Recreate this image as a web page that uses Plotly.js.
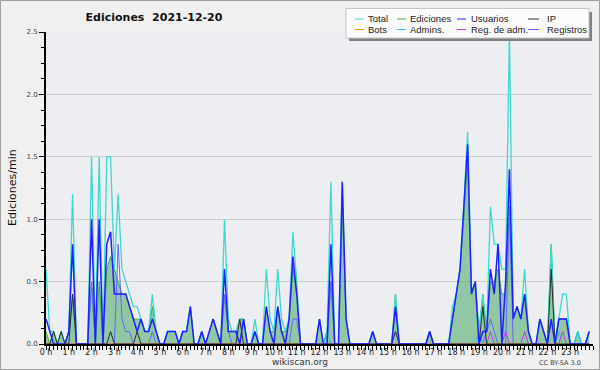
<!DOCTYPE html>
<html><head><meta charset="utf-8">
<script src="https://cdn.plot.ly/plotly-3.0.1.min.js"></script>
<style>html,body{margin:0;padding:0;background:#f0f0f0}#chart{width:600px;height:370px}</style>
</head><body><div id="chart"></div>
<script>
// 10-minute bins, index i -> hour i/6
const hourLabels = ["0 h","1 h","2 h","3 h","4 h","5 h","6 h","7 h","8 h","9 h","10 h","11 h","12 h","13 h","14 h","15 h","16 h","17 h","18 h","19 h","20 h","21 h","22 h","23 h"];

const total = [
 .6,.1,.1,0,.1,0,   .1,1.2,0,0,0,0,   1.5,0,1.5,0,1.5,1.5,   .6,1.2,.6,.5,.4,.3,
 .3,.2,.1,.1,.4,.1,  0,0,.1,.1,.1,0,   .1,.1,.3,0,0,.1,      0,.1,.2,.1,0,1.0,
 .2,.1,.1,.2,.2,0,   0,.2,0,0,.6,.2,   .1,.6,.2,.1,.2,.9,     .5,0,0,0,0,0,
 .2,0,.1,1.3,0,0,    1.3,.2,0,0,0,0,   0,0,.1,0,0,0,          0,0,.4,0,0,0,
 0,0,0,0,0,.1,       0,0,0,0,0,.3,     .4,.6,1.1,1.7,.4,.5,   .1,.4,.1,1.1,.8,.8,
 .6,.6,2.5,.2,.3,.2, .6,.1,0,0,.2,.1,  0,.8,0,.2,.4,.4,       0,0,.1,0,0,.1];

const ediciones = [
 .1,0,.1,0,.1,0,    .1,.4,0,0,0,0,    .5,0,.5,0,.6,.7,      .6,.5,.4,.4,.3,.2,
 .2,.2,.1,.1,.3,.1, 0,0,.1,.1,.1,0,   .1,.1,.3,0,0,.1,      0,.1,.2,.1,0,.4,
 .1,.1,.1,.2,.2,0,  0,.1,0,0,.3,.1,   .1,.3,.1,.1,.2,.6,    .4,0,0,0,0,0,
 .2,0,.1,.5,0,0,    1.1,.2,0,0,0,0,   0,0,.1,0,0,0,         0,0,.4,0,0,0,
 0,0,0,0,0,.1,      0,0,0,0,0,.2,     .4,.6,1.0,1.5,.4,.5,  .1,.4,.1,.5,.5,.6,
 .4,.4,1.1,.2,.3,.2,.4,.1,0,0,.2,.1,  0,.8,0,.2,.2,.2,      0,0,.1,0,0,.1];

const usuarios = [
 .2,.1,0,0,0,0,     .1,.8,0,0,0,0,    1.0,0,1.0,0,.8,.9,    .4,.4,.4,.4,.3,.2,
 .1,.2,.1,.1,.2,.1, 0,0,.1,.1,.1,0,   .1,.1,.3,0,0,.1,      0,.1,.2,.1,0,.6,
 .1,.1,.1,0,.2,0,   0,.1,0,0,.3,.1,   0,.3,.1,0,.2,.7,      .4,0,0,0,0,0,
 .2,0,0,.8,0,0,     1.3,.2,0,0,0,0,   0,0,.1,0,0,0,         0,0,.3,0,0,0,
 0,0,0,0,0,.1,      0,0,0,0,0,.2,     .4,.6,1.1,1.6,.4,.5,  0,.1,.1,.6,.4,.8,
 0,.5,1.4,.2,.3,.2, .4,.1,0,0,.2,.1,  0,.2,0,.2,.2,.2,      0,0,0,0,0,.1];

const ip = [
 0,0,.1,0,.1,0,  0,.4,0,0,0,0,  0,0,0,0,0,.1,  0,0,0,0,0,0,
 .1,0,0,0,0,0,   0,0,0,0,0,0,   0,0,0,0,0,0,   0,0,0,0,0,0,
 0,0,0,.2,0,0,   0,0,0,0,0,0,   0,0,0,0,0,0,   0,0,0,0,0,0,
 0,0,0,0,0,0,    0,0,0,0,0,0,   0,0,0,0,0,0,   0,0,.1,0,0,0,
 0,0,0,0,0,.1,   0,0,0,0,0,0,   0,0,0,0,0,0,   0,.3,0,0,0,0,
 0,0,0,0,0,0,    0,0,0,0,0,0,   0,.6,0,0,0,0,  0,0,0,0,0,0];

const bots = new Array(144).fill(0);

const admins = [
 0,0,0,0,0,0, 0,0,0,0,0,0, 0,0,0,0,0,0, 0,0,0,0,0,0,
 0,0,0,0,0,0, 0,0,0,0,0,0, 0,0,0,0,0,0, 0,0,0,0,0,0,
 0,0,0,0,0,0, 0,0,0,0,0,0, 0,0,0,0,0,0, 0,0,0,0,0,0,
 0,0,.1,0,0,0, 0,0,0,0,0,0, 0,0,0,0,0,0, 0,0,0,0,0,0,
 0,0,0,0,0,0, 0,0,0,0,0,0, 0,0,0,0,0,0, .1,0,0,0,0,0,
 0,0,0,0,0,0, 0,0,0,0,0,0, 0,0,0,.1,0,0, 0,0,.1,0,0,0];

const regAdm = [
 0,0,0,0,0,0, 0,0,0,0,0,0, 0,0,0,0,0,0, 0,0,0,0,0,0,
 0,0,0,0,0,0, 0,0,0,0,0,0, 0,0,0,0,0,0, 0,0,0,0,0,0,
 0,0,0,0,0,0, 0,0,0,0,0,0, 0,0,0,0,0,0, 0,0,0,0,0,0,
 0,0,0,0,0,0, 0,0,0,0,0,0, 0,0,0,0,0,0, 0,0,0,0,0,0,
 0,0,0,0,0,0, 0,0,0,0,0,0, 0,0,0,0,0,0, 0,0,0,.1,0,0,
 0,.1,0,0,0,0, .1,0,0,0,0,0, 0,0,0,0,.1,0, 0,0,0,0,0,0];

const registros = [
 0,0,0,0,0,0, 0,0,0,0,0,0, .5,0,0,0,0,0, 0,.8,.2,.1,.1,0,
 0,0,0,0,.1,0, 0,0,0,0,0,0, 0,0,0,0,0,0, 0,0,0,0,0,.4,
 .1,0,0,0,0,0, 0,0,0,0,0,0, 0,0,0,0,0,.2, .2,0,0,0,0,0,
 0,0,0,.5,0,0, 0,0,0,0,0,0, 0,0,0,0,0,0, 0,0,0,0,0,0,
 0,0,0,0,0,0, 0,0,0,0,0,0, 0,0,0,0,0,0, 0,0,.1,.2,.1,0,
 0,0,1.1,0,0,0, 0,0,0,0,0,0, 0,0,0,.2,.2,.2, 0,0,0,0,0,0];

const seriesNames = ["Total","Ediciones","Usuarios","IP","Bots","Admins.","Reg. de adm.","Registros"];
const seriesColors = ["#3ed8cf","#3fae3f","#1f1fff","#2a2a2a","#ff9900","#22c8dc","#cc33dd","#6464ff"];

const xs = total.map((_, i) => i / 6);

function line(y, idx, w) {
  return {x: xs, y: y, type: 'scatter', mode: 'lines', name: seriesNames[idx],
          line: {color: seriesColors[idx], width: w}, hoverinfo: 'skip', showlegend: false};
}
const edTrace = line(ediciones, 1, 1);
edTrace.fill = 'tozeroy';
edTrace.fillcolor = 'rgba(55,160,85,0.5)';

const traces = [
  edTrace,
  line(total, 0, 1.3),
  line(registros, 7, 1),
  line(admins, 5, 1),
  line(regAdm, 6, 1),
  line(bots, 4, 1),
  line(ip, 3, 1),
  line(usuarios, 2, 1.5)
];

// pixel helpers for decorations (plot area: x 46..593, y 32..344)
const L = 46, W = 547, T = 32, H = 312;
const PX = p => (p - L) / W;
const PY = p => (T + H - p) / H;

const shapes = [];
const annotations = [];

// outer frame
shapes.push({type:'rect', xref:'paper', yref:'paper', x0:PX(0.5), x1:PX(599.5), y0:PY(0.5), y1:PY(369.5),
  line:{color:'#a0a0a0', width:1}, fillcolor:'rgba(0,0,0,0)', layer:'below'});

// legend box with shadow
shapes.push({type:'rect', xref:'paper', yref:'paper', x0:PX(349), x1:PX(592), y0:PY(12), y1:PY(41),
  line:{width:0}, fillcolor:'#808080'});
shapes.push({type:'rect', xref:'paper', yref:'paper', x0:PX(346), x1:PX(589), y0:PY(8.5), y1:PY(38),
  line:{color:'#c8c8c8', width:1}, fillcolor:'#fcfcfc'});

const colLine = [355, 397, 457, 528];
const colText = [366, 408, 469, 545];
const rowY = [19, 29.5];
seriesNames.forEach((n, k) => {
  const c = k % 4, r = Math.floor(k / 4);
  shapes.push({type:'line', xref:'paper', yref:'paper', x0:PX(colLine[c]), x1:PX(colLine[c] + (c === 3 ? 11 : 9)),
    y0:PY(rowY[r]), y1:PY(rowY[r]), line:{color:seriesColors[k], width:1}});
  annotations.push({xref:'paper', yref:'paper', x:PX(colText[c]), y:PY(rowY[r]), xanchor:'left', yanchor:'middle',
    text:n, showarrow:false, font:{family:'Liberation Sans', size:9.5, color:'#222'}});
});

// y-axis title
annotations.push({xref:'paper', yref:'paper', x:PX(12), y:PY(188), xanchor:'center', yanchor:'middle',
  text:'Ediciones/min', textangle:-90, showarrow:false, font:{family:'DejaVu Sans', size:11, color:'#111'}});
// footer
annotations.push({xref:'paper', yref:'paper', x:PX(300), y:PY(362), xanchor:'center', yanchor:'middle',
  text:'wikiscan.org', showarrow:false, font:{family:'DejaVu Sans', size:9, color:'#333'}});
annotations.push({xref:'paper', yref:'paper', x:PX(560), y:PY(363), xanchor:'center', yanchor:'middle',
  text:'CC BY-SA 3.0', showarrow:false, font:{family:'DejaVu Sans', size:6.5, color:'#444'}});

const layout = {
  width: 600, height: 370,
  margin: {l: L, r: 600 - L - W, t: T, b: 370 - T - H, pad: 0},
  paper_bgcolor: '#f0f0f0',
  plot_bgcolor: '#eceef1',
  showlegend: false,
  title: {text: 'Ediciones\u00a0 2021-12-20', xref:'container', yref:'container', x: 154/600, y: 1 - 17/370,
          xanchor:'center', yanchor:'middle', font:{family:'DejaVu Sans', size:11, color:'#111', weight:'bold'}},
  xaxis: {
    range: [0, 24], fixedrange: true,
    tickmode: 'array', tickvals: hourLabels.map((_, h) => h), ticktext: hourLabels,
    ticks: 'outside', ticklen: 4, tickwidth: 1, tickcolor: '#000',
    ticklabelstandoff: -5,
    minor: {tickmode: 'linear', tick0: 0, dtick: 1/6, ticks: 'outside', ticklen: 4, tickcolor: '#000', tickwidth: 1, showgrid: false},
    showgrid: false, zeroline: false,
    showline: true, linecolor: '#000', linewidth: 2,
    tickfont: {family: 'DejaVu Sans', size: 8, color: '#222'}
  },
  yaxis: {
    range: [0, 2.5], fixedrange: true,
    tickmode: 'array', tickvals: [0, 0.5, 1, 1.5, 2, 2.5], ticktext: ['0.0','0.5','1.0','1.5','2.0','2.5'],
    ticks: 'outside', ticklen: 5, tickwidth: 1, tickcolor: '#000',
    minor: {tickmode: 'linear', tick0: 0, dtick: 0.125, ticks: 'outside', ticklen: 3, tickcolor: '#000', tickwidth: 1, showgrid: false},
    showgrid: true, gridcolor: '#cfcfcf', gridwidth: 1, zeroline: false,
    showline: true, linecolor: '#000', linewidth: 2,
    tickfont: {family: 'DejaVu Sans', size: 7, color: '#444'}
  },
  shapes: shapes,
  annotations: annotations
};

Plotly.newPlot('chart', traces, layout, {staticPlot: true, displayModeBar: false});
</script>
</body></html>
